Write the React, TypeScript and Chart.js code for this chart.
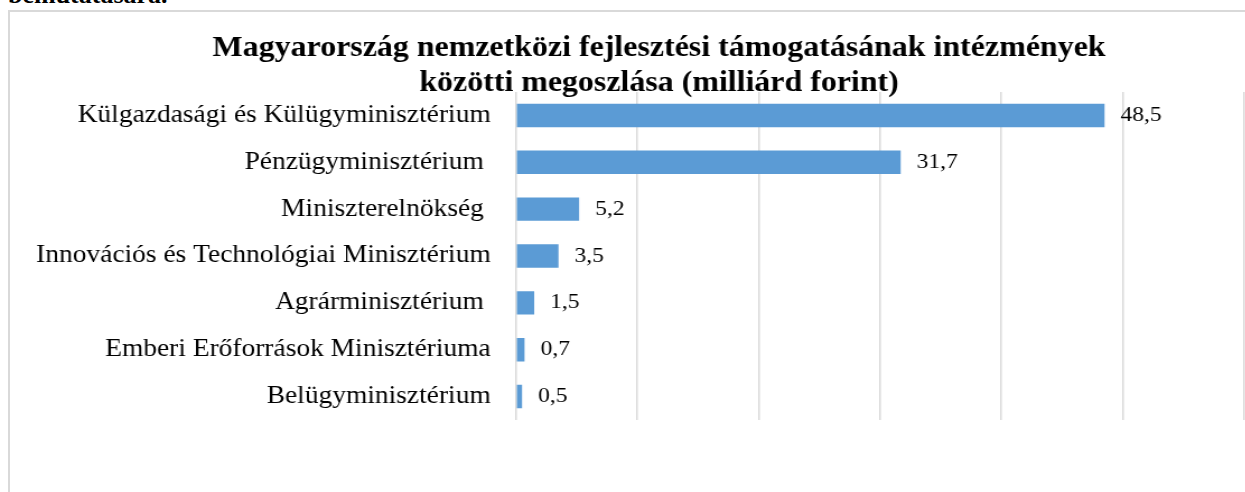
import React, { useEffect, useRef } from "react";
import { Chart, registerables } from "chart.js";

Chart.register(...registerables);

const titleLines = [
  "Magyarország nemzetközi fejlesztési támogatásának intézmények",
  "közötti megoszlása (milliárd forint)",
];
const categories = [
  "Külgazdasági és Külügyminisztérium",
  "Pénzügyminisztérium ",
  "Miniszterelnökség ",
  "Innovációs és Technológiai Minisztérium",
  "Agrárminisztérium ",
  "Emberi Erőforrások Minisztériuma",
  "Belügyminisztérium",
];
const values = [48.5, 31.7, 5.2, 3.5, 1.5, 0.7, 0.5];
const axisMin = 0;
const axisMax = 60;
const axisStep = 10;

const SX = 1.12; // horizontal stretch of the reference image
const FONT = "'Liberation Serif', 'Times New Roman', serif";
const CW = 1298 / SX;
const CH = 480;

const valueLabels = {
  id: "valueLabels",
  afterDatasetsDraw(chart: any) {
    const ctx = chart.ctx;
    const meta = chart.getDatasetMeta(0);
    ctx.save();
    ctx.font = `21px ${FONT}`;
    ctx.fillStyle = "#000";
    ctx.textAlign = "left";
    ctx.textBaseline = "middle";
    meta.data.forEach((bar: any, i: number) => {
      const v = chart.data.datasets[0].data[i] as number;
      ctx.fillText(String(v).replace(".", ","), bar.x + 16 / SX, bar.y);
    });
    ctx.restore();
  },
};

const centeredTitle = {
  id: "centeredTitle",
  afterDraw(chart: any) {
    const ctx = chart.ctx;
    ctx.save();
    ctx.font = `bold 28.5px ${FONT}`;
    ctx.fillStyle = "#000";
    ctx.textAlign = "center";
    ctx.textBaseline = "middle";
    titleLines.forEach((line, i) => {
      ctx.fillText(line, chart.width / 2, 37 + i * 35);
    });
    ctx.restore();
  },
};

export default function App() {
  const ref = useRef<HTMLCanvasElement>(null);
  useEffect(() => {
    if (!ref.current) return;
    const chart = new Chart(ref.current, {
      type: "bar",
      data: {
        labels: categories,
        datasets: [
          {
            data: values,
            backgroundColor: "#5b9bd5",
            borderWidth: 0,
            categoryPercentage: 1,
            barPercentage: 0.5,
          },
        ],
      },
      options: {
        indexAxis: "y",
        responsive: false,
        animation: false,
        devicePixelRatio: 1,
        layout: { padding: { left: 0, right: 64 / SX, top: 80, bottom: 72 } },
        plugins: {
          legend: { display: false },
          tooltip: { enabled: false },
          title: { display: false },
        },
        scales: {
          x: {
            min: axisMin,
            max: axisMax,
            ticks: { display: false, stepSize: axisStep },
            grid: { color: "#d9d9d9", lineWidth: 1.5, drawTicks: false },
            border: { display: false },
          },
          y: {
            ticks: {
              color: "#000",
              font: { family: FONT, size: 24.5 },
              padding: 25.3 / SX,
            },
            grid: { display: false, drawTicks: false },
            border: { display: false },
            afterFit: (scale: any) => {
              scale.width = 506 / SX;
            },
          },
        },
      },
      plugins: [valueLabels, centeredTitle],
    });
    return () => chart.destroy();
  }, []);

  return (
    <div
      style={{
        position: "fixed",
        left: 0,
        top: 0,
        width: 1245,
        height: 492,
        overflow: "hidden",
        background: "#fff",
      }}
    >
      <div
        style={{
          position: "absolute",
          left: 8,
          top: -18,
          font: `bold 26px ${FONT}`,
          lineHeight: "26px",
          color: "#000",
          whiteSpace: "nowrap",
        }}
      >
        bemutatására.
      </div>
      <div
        style={{
          position: "absolute",
          left: 8,
          top: 10,
          width: 1320,
          height: 520,
          border: "2px solid #d9d9d9",
          boxSizing: "border-box",
        }}
      />
      <div
        style={{
          position: "absolute",
          left: 10,
          top: 12,
          transform: `scaleX(${SX})`,
          transformOrigin: "0 0",
        }}
      >
        <canvas
          ref={ref}
          width={Math.round(CW)}
          height={CH}
          style={{ width: Math.round(CW), height: CH, display: "block" }}
        />
      </div>
    </div>
  );
}
